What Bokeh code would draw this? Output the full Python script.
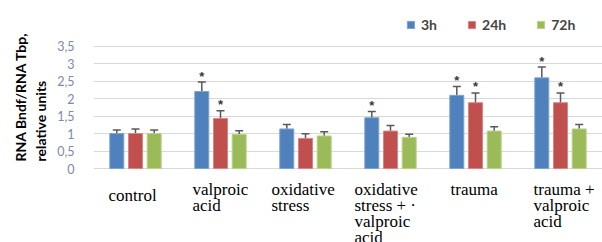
import numpy as np
from bokeh.plotting import figure
from bokeh.models import (ColumnDataSource, Range1d, FixedTicker, Legend, LegendItem,
                          Title, Whisker, TeeHead)
from bokeh.core.properties import value
from bokeh.embed import file_html
from bokeh.resources import INLINE

# ---------------- data ----------------
categories = ["control", "valproic\n acid", "oxidative\nstress",
              "oxidative\nstress + \u00b7\nvalproic\n acid", "trauma",
              "trauma +\nvalproic\n acid"]
series = ["3h", "24h", "72h"]
vals_3h = [1.00, 2.20, 1.13, 1.45, 2.09, 2.59]
vals_24h = [1.00, 1.43, 0.86, 1.07, 1.88, 1.88]
vals_72h = [1.00, 0.97, 0.93, 0.89, 1.07, 1.13]
err_3h = [0.10, 0.27, 0.13, 0.18, 0.25, 0.31]
err_24h = [0.13, 0.22, 0.13, 0.16, 0.28, 0.28]
err_72h = [0.10, 0.11, 0.12, 0.09, 0.12, 0.13]
sig_3h = [False, True, False, True, True, True]
sig_24h = [False, True, False, False, True, True]
sig_72h = [False, False, False, False, False, False]
y_ticks = [0, 0.5, 1, 1.5, 2, 2.5, 3, 3.5]
y_tick_labels = ["0", "0,5", "1", "1,5", "2", "2,5", "3", "3,5"]
y_title = ["RNA Bndf/RNA Tbp,", "relative units"]

# ---------------- geometry / style ----------------
W, H = 602, 242
LEFT = 93            # frame left inside figure
PX_Y = 35.0          # px per y unit
ZERO_Y = 168         # px from figure top to y=0
PX_X = 85.0          # px per category
G0_X = 42            # px from frame left to first group centre
BAR_W = 14 / PX_X
OFFS = [-18.7 / PX_X, 0.0, 18.7 / PX_X]
COLORS = ["#4F81BD", "#C0504D", "#9BBB59"]
EDGE = ["#7EA2D3", "#D98583", "#B9D289"]
LABEL_DX = [-27, -28, -34, -36, -25, -27]   # px, start of each category text
LABEL_DY = [6, 0, 0, 0, 0, 0]               # px, extra drop of each category text
SERIF = "'Liberation Serif', 'Times New Roman', serif"

x0 = -G0_X / PX_X
x1 = x0 + (W - LEFT) / PX_X
y1 = ZERO_Y / PX_Y
y0 = -(H - ZERO_Y) / PX_Y

p = figure(width=W, height=H, output_backend="svg", toolbar_location=None,
           x_range=Range1d(x0, x1), y_range=Range1d(y0, y1),
           x_axis_location=None, min_border_left=LEFT, min_border_right=0,
           min_border_top=0, min_border_bottom=0, outline_line_color=None)
p.xgrid.visible = False
p.ygrid.grid_line_color = "#D9D9D9"
p.ygrid.grid_line_width = 1

ax = p.yaxis[0]
ax.ticker = FixedTicker(ticks=y_ticks)
ax.major_label_overrides = {t: l for t, l in zip(y_ticks, y_tick_labels)}
ax.axis_line_color = None
ax.major_tick_line_color = None
ax.minor_tick_line_color = None
ax.major_label_standoff = 13
ax.major_label_text_font = "Lato"
ax.major_label_text_font_size = "12.5px"
ax.major_label_text_color = "#7A8BA5"

idx = np.arange(len(categories))
all_vals = [vals_3h, vals_24h, vals_72h]
all_errs = [err_3h, err_24h, err_72h]
all_sig = [sig_3h, sig_24h, sig_72h]

renderers = []
ast_x, ast_y = [], []
for s in range(3):
    xs = idx + OFFS[s]
    v = np.array(all_vals[s])
    e = np.array(all_errs[s])
    src = ColumnDataSource(dict(x=xs, top=v, lo=v - e, hi=v + e))
    r = p.vbar(x="x", top="top", bottom=0, width=BAR_W, source=src,
               fill_color=COLORS[s], line_color=EDGE[s], line_width=1)
    renderers.append(r)
    wh = Whisker(base="x", upper="hi", lower="lo", source=src,
                 line_color="#595959", line_width=1.5,
                 upper_head=TeeHead(size=8, line_color="#595959", line_width=1.5),
                 lower_head=TeeHead(size=8, line_color="#595959", line_width=1.5))
    p.add_layout(wh)
    for i in range(len(categories)):
        if all_sig[s][i]:
            ast_x.append(xs[i])
            ast_y.append(v[i] + e[i] + 6 / PX_Y)

p.text(x=ast_x, y=ast_y, text=["*"] * len(ast_x), text_align="center",
       text_baseline="middle", text_font=value("Liberation Sans"),
       text_font_size="13px", text_font_style="bold", text_color="#3A3A3A")

# category labels (below the zero line), baseline-aligned
lx, ly, lt = [], [], []
for i, cat in enumerate(categories):
    for k, line in enumerate(cat.split("\n")):
        lx.append(i + LABEL_DX[i] / PX_X)
        ly.append(-(20.5 + LABEL_DY[i] + 16.2 * k) / PX_Y)
        lt.append(line)
p.text(x=lx, y=ly, text=lt, text_align="left", text_baseline="alphabetic",
       text_font=value(SERIF), text_font_size="17px",
       text_color="#000000")

# y title: one two-line side title, lines starting at the same bottom point
t = Title(text="\n".join(y_title), align="left", offset=H - 161, standoff=10,
          text_font="Lato", text_font_size="14px", text_line_height=1.18,
          text_font_style="bold", text_color="#000000")
p.add_layout(t, "left")

legend = Legend(items=[LegendItem(label=series[s], renderers=[renderers[s]])
                       for s in range(3)],
                orientation="horizontal", location=(313, 209),
                label_text_font="Lato", label_text_font_style="bold",
                label_text_font_size="14px", glyph_width=9, glyph_height=9,
                label_standoff=6, spacing=30, padding=0, margin=0,
                label_width=0, border_line_color=None,
                background_fill_alpha=0)
p.add_layout(legend)

open("out.html", "w").write(file_html(p, INLINE))
